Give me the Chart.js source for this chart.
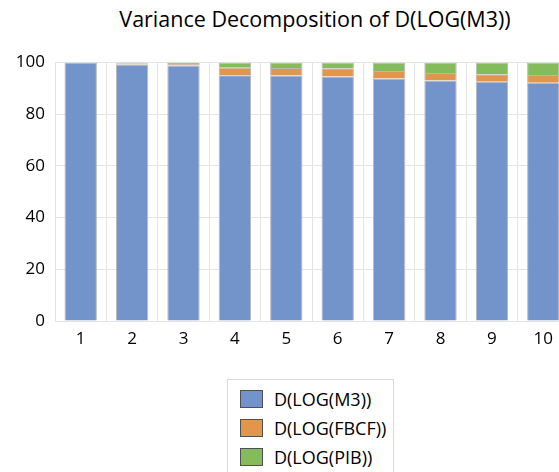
<!DOCTYPE html>
<html>
<head>
<meta charset="utf-8">
<script src="https://cdn.jsdelivr.net/npm/chart.js@4/dist/chart.umd.min.js"></script>
<style>
  html, body { margin: 0; padding: 0; background: #fff; overflow: hidden; width: 559px; height: 472px; }
  #wrap { position: absolute; left: 0; top: 0; width: 580px; height: 352px; }
  #titre {
    position: absolute; left: 0; top: 5px; width: 630px; text-align: center; line-height: 28px;
    font-family: "Open Sans", sans-serif; font-size: 21.5px; color: #000; white-space: nowrap;
  }
  #legende {
    position: absolute; left: 227px; top: 379px; width: 165px; height: 120px;
    border: 1px solid #d9d9d9; font-family: "Open Sans", sans-serif; font-size: 18px; color: #000;
  }
  .item { position: absolute; left: 12px; height: 20px; white-space: nowrap; }
  .item span.boite {
    position: absolute; left: 0; top: 1px; width: 21px; height: 16px; border: 1px solid #505050;
  }
  .item span.texte { position: absolute; left: 34px; top: 0; line-height: 20px; }
</style>
</head>
<body>
<div id="titre">Variance Decomposition of D(LOG(M3))</div>
<div id="wrap"><canvas id="graphique"></canvas></div>
<div id="legende"></div>
<script>
const periodes = ["1", "2", "3", "4", "5", "6", "7", "8", "9", "10"];
const m3 = [100.0, 99.2, 98.8, 95.1, 95.0, 94.6, 93.8, 93.0, 92.6, 92.2];
const fbcf = [0.0, 0.5, 0.6, 2.9, 2.9, 3.2, 2.9, 2.9, 2.9, 3.0];
const pib = [0.0, 0.3, 0.6, 2.0, 2.1, 2.2, 3.3, 4.1, 4.5, 4.8];
const yTicks = [0, 20, 40, 60, 80, 100];

const series = [
  { label: "D(LOG(M3))", data: m3, couleur: "#7294cb" },
  { label: "D(LOG(FBCF))", data: fbcf, couleur: "#e2964b" },
  { label: "D(LOG(PIB))", data: pib, couleur: "#84bb5b" },
];

const datasets = series.map((s) => ({
  label: s.label,
  data: s.data,
  backgroundColor: s.couleur,
  borderColor: "#b8b8b8",
  borderWidth: 1,
  barPercentage: 0.63,
  categoryPercentage: 1,
}));

const config = {
  type: "bar",
  data: { labels: periodes, datasets: datasets },
  options: {
    responsive: true,
    maintainAspectRatio: false,
    animation: false,
    layout: { padding: { top: 62.5, right: 11, left: 0, bottom: 0 } },
    plugins: {
      legend: { display: false },
      title: { display: false },
      tooltip: { enabled: false },
    },
    scales: {
      x: {
        stacked: true,
        grid: { color: "#e4e4e4", drawTicks: false },
        border: { display: false },
        ticks: { color: "#000", font: { family: "Open Sans", size: 17 }, padding: 8 },
        afterFit: (s) => { s.height = 31; },
      },
      y: {
        stacked: true,
        min: 0,
        max: 100,
        afterBuildTicks: (s) => { s.ticks = yTicks.map((v) => ({ value: v })); },
        grid: { color: "#e4e4e4", drawTicks: false },
        border: { display: false },
        ticks: { color: "#000", font: { family: "Open Sans", size: 17 }, padding: 10 },
        afterFit: (s) => { s.width = 55; },
      },
    },
  },
};

new Chart(document.querySelector("#graphique"), config);

const legende = document.querySelector("#legende");
series.forEach((s, i) => {
  const item = document.createElement("div");
  item.className = "item";
  item.style.top = 9 + i * 29 + "px";
  item.innerHTML = `<span class="boite" style="background:${s.couleur}"></span><span class="texte">${s.label}</span>`;
  legende.appendChild(item);
});
</script>
</body>
</html>
